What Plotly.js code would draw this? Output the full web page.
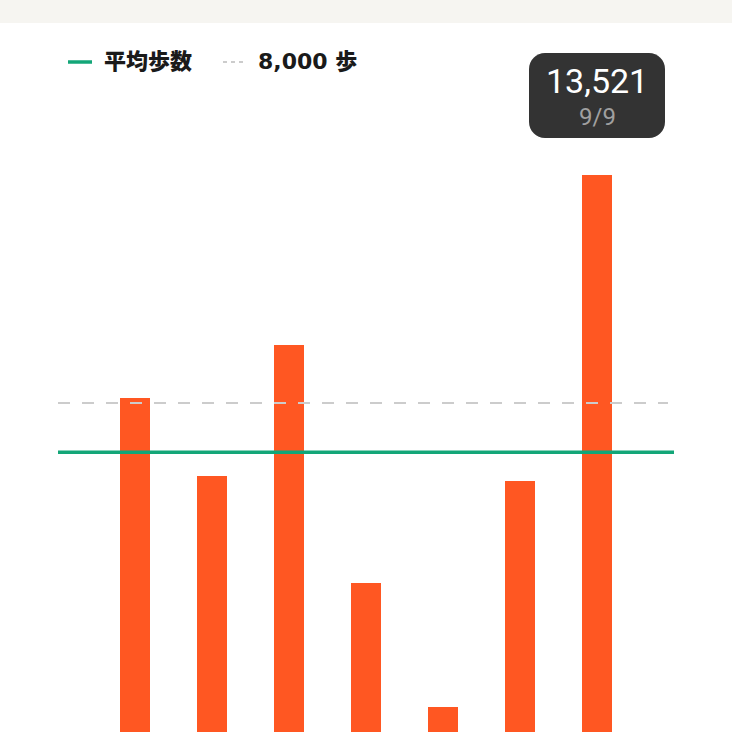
<!DOCTYPE html>
<html>
<head>
<meta charset="utf-8">
<script src="https://cdn.plot.ly/plotly-3.0.1.min.js"></script>
<style>
  html, body { margin: 0; padding: 0; background: #ffffff; }
  #chart { width: 732px; height: 732px; }
</style>
</head>
<body>
<div id="chart"></div>
<script>
// ---- data ----
const dates = ['9/3', '9/4', '9/5', '9/6', '9/7', '9/8', '9/9'];
const steps = [8110, 6230, 9400, 3640, 640, 6110, 13521];
const targetSteps = 8000;
const legendLabels = ['平均歩数', '8,000 歩'];
const highlightIndex = 6;

// ---- derived ----
const avgSteps = steps.reduce((a, b) => a + b, 0) / steps.length;

const W = 732, H = 732;
const M = { l: 58, r: 58, t: 0, b: 0 };
const PW = W - M.l - M.r, PH = H - M.t - M.b;
const px = x => (x - M.l) / PW;          // pixel x -> paper
const py = y => (H - M.b - y) / PH;      // pixel y -> paper

const cjk = 'DejaVu Sans, Noto Sans CJK JP, sans-serif';

const bars = {
  type: 'bar',
  x: dates,
  y: steps,
  width: 0.39,
  marker: { color: '#ff5722', line: { width: 0 } },
  hoverinfo: 'skip',
  showlegend: false
};

const hi = highlightIndex;
const shapes = [
  // top band
  { type: 'rect', xref: 'paper', yref: 'paper', x0: px(0), x1: px(W), y0: py(23), y1: py(0),
    fillcolor: '#f6f5f1', line: { width: 0 }, layer: 'below' },
  // target line
  { type: 'line', xref: 'paper', yref: 'y', x0: 0, x1: px(668), y0: targetSteps, y1: targetSteps,
    line: { color: '#cccccc', width: 2, dash: '12px,12px' }, layer: 'above' },
  // average line
  { type: 'line', xref: 'paper', yref: 'y', x0: 0, x1: 1, y0: avgSteps, y1: avgSteps,
    line: { color: '#13a678', width: 3.5 }, layer: 'above' },
  // legend samples
  { type: 'line', xref: 'paper', yref: 'paper', x0: px(68), x1: px(92), y0: py(62), y1: py(62),
    line: { color: '#13a678', width: 3.5 } },
  { type: 'line', xref: 'paper', yref: 'paper', x0: px(223), x1: px(245), y0: py(62), y1: py(62),
    line: { color: '#cccccc', width: 2, dash: '4px,4px' } },
  // tooltip box (pixel-sized, anchored on the highlighted bar top)
  { type: 'path', xref: 'x', yref: 'y', xsizemode: 'pixel', ysizemode: 'pixel',
    xanchor: dates[hi], yanchor: steps[hi],
    path: 'M -52,37 L 52,37 C 60.8,37 68,44.2 68,53 L 68,106 C 68,114.8 60.8,122 52,122 ' +
          'L -52,122 C -60.8,122 -68,114.8 -68,106 L -68,53 C -68,44.2 -60.8,37 -52,37 Z',
    fillcolor: '#333333', line: { width: 0 }, layer: 'above' }
];

const annotations = [
  { xref: 'paper', yref: 'paper', x: px(102), y: py(62), xanchor: 'left', yanchor: 'middle',
    showarrow: false, text: legendLabels[0],
    font: { family: cjk, size: 22, color: '#1a1a1a', weight: 900 } },
  { xref: 'paper', yref: 'paper', x: px(256), y: py(62), xanchor: 'left', yanchor: 'middle',
    showarrow: false, text: legendLabels[1],
    font: { family: cjk, size: 22, color: '#1a1a1a', weight: 900 } },
  { xref: 'x', yref: 'y', x: dates[hi], y: steps[hi], xanchor: 'center', yanchor: 'middle',
    yshift: 94, showarrow: false, text: steps[hi].toLocaleString('en-US'),
    font: { family: 'Roboto, Inter, sans-serif', size: 34, color: '#ffffff', weight: 400 } },
  { xref: 'x', yref: 'y', x: dates[hi], y: steps[hi], xanchor: 'center', yanchor: 'middle',
    yshift: 58, showarrow: false, text: dates[hi],
    font: { family: 'Roboto, Inter, sans-serif', size: 24, color: '#a0a0a0' } }
];

const layout = {
  width: W, height: H,
  margin: M,
  paper_bgcolor: '#ffffff',
  plot_bgcolor: '#ffffff',
  showlegend: false,
  bargap: 0,
  xaxis: { type: 'category', range: [-1, 7], showgrid: false, zeroline: false,
           showticklabels: false, ticks: '', showline: false, fixedrange: true },
  yaxis: { range: [34, 17758], showgrid: false, zeroline: false,
           showticklabels: false, ticks: '', showline: false, fixedrange: true },
  shapes: shapes,
  annotations: annotations
};

Plotly.newPlot('chart', [bars], layout, { displayModeBar: false, staticPlot: true });
</script>
</body>
</html>
